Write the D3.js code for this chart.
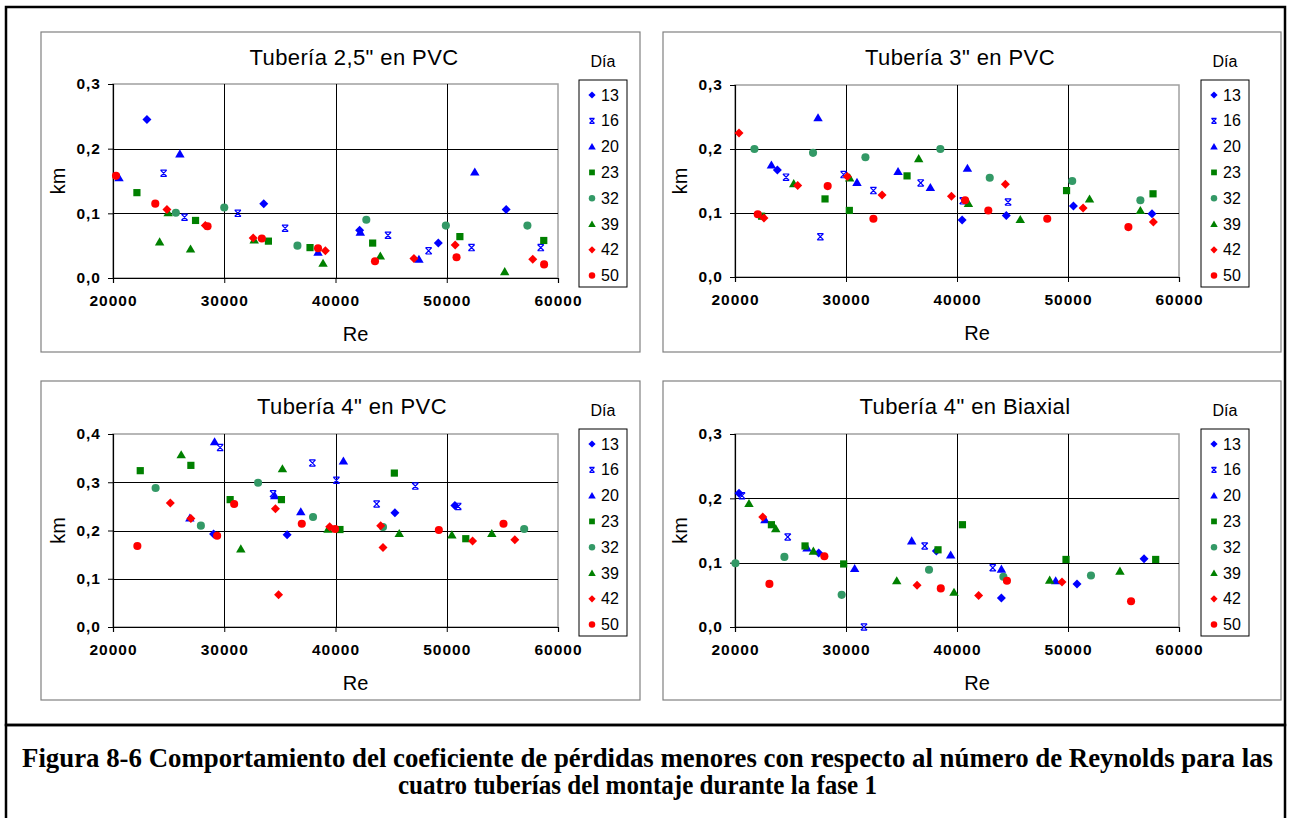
<!DOCTYPE html>
<html>
<head>
<meta charset="utf-8">
<script src="https://cdn.jsdelivr.net/npm/d3@7"></script>
<style>
  body { margin: 0; background: #fff; }
  svg { display: block; }
</style>
</head>
<body>
<svg id="fig" width="1290" height="818"></svg>
<script>
// Series definitions (legend order)
const days = [13, 16, 20, 23, 32, 39, 42, 50];
const dayColors = ["#0000ff", "#0000ff", "#0000ff", "#008000", "#339966", "#008000", "#ff0000", "#ff0000"];
const dayShapes = ["diamond", "star", "triangle", "square", "circle", "triangle", "diamond", "circle"];

// Axis ticks
const xTicks = [20000, 30000, 40000, 50000, 60000];
const yTicksA = [0, 0.1, 0.2, 0.3];
const yTicksB = [0, 0.1, 0.2, 0.3, 0.4];

const panelTitles = ["Tubería 2,5\" en PVC", "Tubería 3\" en PVC", "Tubería 4\" en PVC", "Tubería 4\" en Biaxial"];

// Rows: [día, Re, km]
const pvc25 = [
  [13,23050,0.245],[13,33550,0.115],[13,42170,0.074],[13,49240,0.054],[13,55340,0.106],
  [16,24550,0.162],[16,26430,0.094],[16,31220,0.100],[16,35470,0.077],[16,44720,0.066],[16,48370,0.042],[16,52230,0.047],[16,58450,0.047],
  [20,20540,0.155],[20,26010,0.192],[20,38430,0.040],[20,42230,0.071],[20,47500,0.029],[20,52520,0.164],
  [23,22150,0.132],[23,27420,0.089],[23,33970,0.057],[23,37710,0.047],[23,43340,0.054],[23,51180,0.064],[23,58720,0.058],
  [32,25650,0.101],[32,30000,0.109],[32,36580,0.050],[32,42770,0.090],[32,49920,0.081],[32,57250,0.081],
  [39,24960,0.101],[39,24190,0.056],[39,26970,0.045],[39,32690,0.059],[39,38880,0.023],[39,44030,0.034],[39,55210,0.010],
  [42,24850,0.106],[42,28300,0.081],[42,32600,0.062],[42,39090,0.042],[42,47050,0.030],[42,50760,0.051],[42,57730,0.029],
  [50,20270,0.158],[50,23800,0.115],[50,28500,0.080],[50,33380,0.061],[50,38430,0.046],[50,43550,0.026],[50,50880,0.032],[50,58750,0.021]
];

const pvc3 = [
  [13,23820,0.167],[13,40460,0.089],[13,44440,0.096],[13,50490,0.111],[13,57570,0.099],
  [16,24600,0.156],[16,27690,0.063],[16,29790,0.160],[16,32470,0.135],[16,36730,0.147],[16,40520,0.119],[16,44600,0.117],
  [20,23280,0.175],[20,27480,0.249],[20,30990,0.148],[20,34690,0.165],[20,37600,0.140],[20,40940,0.170],
  [23,22400,0.095],[23,28110,0.122],[23,30300,0.104],[23,35500,0.158],[23,49870,0.135],[23,57660,0.130],
  [32,21750,0.200],[32,27030,0.194],[32,31750,0.187],[32,38500,0.200],[32,42950,0.155],[32,50380,0.150],[32,56520,0.120],
  [39,25290,0.146],[39,30330,0.155],[39,36550,0.185],[39,41030,0.115],[39,45700,0.090],[39,51940,0.122],[39,56520,0.104],
  [42,20360,0.225],[42,22610,0.092],[42,25650,0.143],[42,30120,0.157],[42,33250,0.128],[42,39500,0.126],[42,44360,0.145],[42,51360,0.108],[42,57690,0.086],
  [50,22050,0.098],[50,28350,0.142],[50,32470,0.091],[50,40730,0.120],[50,42820,0.104],[50,48130,0.091],[50,55440,0.078]
];

const pvc4 = [
  [13,29040,0.193],[13,35650,0.191],[13,45340,0.237],[13,50730,0.252],
  [16,29630,0.372],[16,34390,0.276],[16,37920,0.340],[16,40080,0.304],[16,43700,0.255],[16,47170,0.292],[16,51030,0.250],
  [20,26910,0.226],[20,29130,0.384],[20,34540,0.272],[20,36880,0.239],[20,40710,0.344],
  [23,22450,0.324],[23,27000,0.335],[23,30530,0.264],[23,35140,0.264],[23,40400,0.202],[23,45290,0.319],[23,51710,0.183],
  [32,23830,0.288],[32,27900,0.210],[32,33040,0.299],[32,37980,0.228],[32,44270,0.207],[32,56960,0.203],
  [39,26130,0.357],[39,31490,0.162],[39,35230,0.328],[39,39330,0.203],[39,45730,0.194],[39,50460,0.191],[39,54050,0.194],
  [42,25150,0.257],[42,27000,0.225],[42,34600,0.245],[42,34880,0.067],[42,39480,0.208],[42,44060,0.210],[42,44270,0.165],[42,52320,0.178],[42,56120,0.181],
  [50,22190,0.168],[50,29360,0.189],[50,30890,0.255],[50,36970,0.214],[50,39960,0.203],[50,49290,0.201],[50,55100,0.214]
];

const biax4 = [
  [13,20360,0.208],[13,27540,0.115],[13,38140,0.118],[13,44000,0.045],[13,50810,0.067],[13,56850,0.106],
  [16,20630,0.204],[16,24750,0.140],[16,31620,0.000],[16,37090,0.126],[16,43220,0.092],
  [20,22700,0.167],[20,26490,0.123],[20,30780,0.091],[20,35920,0.134],[20,39430,0.112],[20,44000,0.090],[20,48890,0.072],
  [23,23280,0.159],[23,26310,0.126],[23,29790,0.098],[23,38290,0.120],[23,40490,0.159],[23,49820,0.105],[23,57900,0.105],
  [32,20040,0.099],[32,24450,0.109],[32,29610,0.050],[32,37480,0.089],[32,44180,0.078],[32,52070,0.080],
  [39,21260,0.192],[39,23670,0.153],[39,27060,0.118],[39,34570,0.072],[39,39730,0.054],[39,48350,0.073],[39,54680,0.087],
  [42,22500,0.171],[42,36400,0.065],[42,41950,0.049],[42,49460,0.070],
  [50,23100,0.067],[50,28050,0.110],[50,38540,0.060],[50,44500,0.072],[50,55680,0.040]
];

const svg = d3.select("#fig");
const FONT = "'Liberation Sans', Arial, sans-serif";

// Outer frames: figure area and caption area
svg.append("rect").attr("x", 6).attr("y", 7).attr("width", 1279).attr("height", 718)
  .attr("fill", "none").attr("stroke", "#000").attr("stroke-width", 2.5);
svg.append("rect").attr("x", 6).attr("y", 725).attr("width", 1279).attr("height", 110)
  .attr("fill", "none").attr("stroke", "#000").attr("stroke-width", 2.5);

// Marker path generator
function markerPath(shape, s) {
  const p = d3.path();
  if (shape === "diamond") {
    p.moveTo(0, -s); p.lineTo(s, 0); p.lineTo(0, s); p.lineTo(-s, 0); p.closePath();
  } else if (shape === "triangle") {
    p.moveTo(0, -s); p.lineTo(s * 1.05, s * 0.8); p.lineTo(-s * 1.05, s * 0.8); p.closePath();
  } else if (shape === "square") {
    const h = s * 0.8; p.rect(-h, -h, 2 * h, 2 * h);
  } else if (shape === "circle") {
    p.arc(0, 0, s * 0.9, 0, 2 * Math.PI);
  } else if (shape === "star") {
    const h = s * 0.7;
    p.moveTo(-h, -h); p.lineTo(h, h); p.moveTo(h, -h); p.lineTo(-h, h);
    p.moveTo(-h, -h); p.lineTo(h, -h); p.moveTo(-h, h); p.lineTo(h, h);
  }
  return p.toString();
}

function drawMarker(g, idx, x, y, s) {
  const shape = dayShapes[idx], col = dayColors[idx];
  const el = g.append("path").attr("transform", `translate(${x},${y})`).attr("d", markerPath(shape, s));
  if (shape === "star") el.attr("fill", "none").attr("stroke", col).attr("stroke-width", 1.2);
  else el.attr("fill", col).attr("stroke", "none");
}

const fmtY = d => d.toFixed(1).replace(".", ",");

const panels = [
  { rows: pvc25, title: panelTitles[0], box: [41, 32, 599, 320], plot: [113, 84, 558, 278], yMax: 0.3, yt: yTicksA, titleX: 354 },
  { rows: pvc3,  title: panelTitles[1], box: [663, 32, 618, 320], plot: [735, 85, 1179, 277], yMax: 0.3, yt: yTicksA, titleX: 960 },
  { rows: pvc4,  title: panelTitles[2], box: [41, 381, 599, 319], plot: [113, 434, 558, 627], yMax: 0.4, yt: yTicksB, titleX: 352 },
  { rows: biax4, title: panelTitles[3], box: [663, 381, 618, 319], plot: [735, 434, 1179, 627], yMax: 0.3, yt: yTicksA, titleX: 965 }
];

panels.forEach(pn => {
  const [bx, by, bw, bh] = pn.box;
  const [l, t, r, b] = pn.plot;
  const g = svg.append("g");

  g.append("rect").attr("x", bx).attr("y", by).attr("width", bw).attr("height", bh)
    .attr("fill", "#fff").attr("stroke", "#808080").attr("stroke-width", 1.2);

  const x = d3.scaleLinear().domain([20000, 60000]).range([l, r]);
  const y = d3.scaleLinear().domain([0, pn.yMax]).range([b, t]);

  // Plot border
  g.append("rect").attr("x", l).attr("y", t).attr("width", r - l).attr("height", b - t)
    .attr("fill", "#fff").attr("stroke", "#a0a0a0").attr("stroke-width", 1.5);

  // Gridlines
  g.selectAll(".gx").data(xTicks.slice(1, -1)).join("line")
    .attr("x1", d => Math.round(x(d)) + 0.5).attr("x2", d => Math.round(x(d)) + 0.5)
    .attr("y1", t).attr("y2", b).attr("stroke", "#000").attr("stroke-width", 1);
  g.selectAll(".gy").data(pn.yt.slice(1, -1)).join("line")
    .attr("y1", d => Math.round(y(d)) + 0.5).attr("y2", d => Math.round(y(d)) + 0.5)
    .attr("x1", l).attr("x2", r).attr("stroke", "#000").attr("stroke-width", 1);

  // Axes
  const ax = g.append("g").attr("transform", `translate(0,${b})`)
    .call(d3.axisBottom(x).tickValues(xTicks).tickSize(5).tickPadding(7).tickFormat(d3.format("d")));
  const ay = g.append("g").attr("transform", `translate(${l},0)`)
    .call(d3.axisLeft(y).tickValues(pn.yt).tickSize(5).tickPadding(7).tickFormat(fmtY));
  [ax, ay].forEach(a => {
    a.select(".domain").attr("stroke", "#000").attr("stroke-width", 1.2);
    a.selectAll(".tick line").attr("stroke", "#000");
    a.selectAll(".tick text").attr("fill", "#000").attr("font-family", FONT)
      .attr("font-size", 15.5).attr("font-weight", "bold").attr("letter-spacing", "1px");
  });
  ax.selectAll(".tick text").attr("dy", "1.05em");

  // Titles
  g.append("text").attr("x", pn.titleX).attr("y", by + 33).attr("text-anchor", "middle")
    .attr("font-family", FONT).attr("font-size", 22).attr("letter-spacing", "0.4px").text(pn.title);
  g.append("text").attr("x", (l + r) / 2 + 20).attr("y", b + 63).attr("text-anchor", "middle")
    .attr("font-family", FONT).attr("font-size", 20).text("Re");
  g.append("text").attr("transform", `translate(${bx + 24},${(t + b) / 2}) rotate(-90)`)
    .attr("text-anchor", "middle").attr("font-family", FONT).attr("font-size", 20).text("km");

  // Points, series by series
  days.forEach((d, i) => {
    pn.rows.filter(row => row[0] === d).forEach(row => {
      drawMarker(g, i, x(row[1]), y(row[2]), 4.5);
    });
  });

  // Legend
  const lx = bx + 538, ly = by + 48;
  g.append("text").attr("x", lx + 24).attr("y", by + 35).attr("text-anchor", "middle")
    .attr("font-family", FONT).attr("font-size", 16).text("Día");
  g.append("rect").attr("x", lx).attr("y", ly).attr("width", 48).attr("height", 207)
    .attr("fill", "#fff").attr("stroke", "#000").attr("stroke-width", 1);
  days.forEach((d, i) => {
    const cy = ly + 15 + i * 25.8;
    drawMarker(g, i, lx + 13, cy, 3.6);
    g.append("text").attr("x", lx + 22).attr("y", cy + 5.5).attr("font-family", FONT)
      .attr("font-size", 16).text(d);
  });
});

// Caption
const cap = svg.append("g").attr("font-family", "'Liberation Serif', 'Times New Roman', serif")
  .attr("font-weight", "bold").attr("font-size", 27).attr("text-anchor", "start");
cap.append("text").attr("x", 22).attr("y", 767).attr("textLength", 1251).attr("lengthAdjust", "spacingAndGlyphs")
  .text("Figura 8-6 Comportamiento del coeficiente de pérdidas menores con respecto al número de Reynolds para las");
cap.append("text").attr("x", 398).attr("y", 794).attr("textLength", 479).attr("lengthAdjust", "spacingAndGlyphs")
  .text("cuatro tuberías del montaje durante la fase 1");
</script>
</body>
</html>
